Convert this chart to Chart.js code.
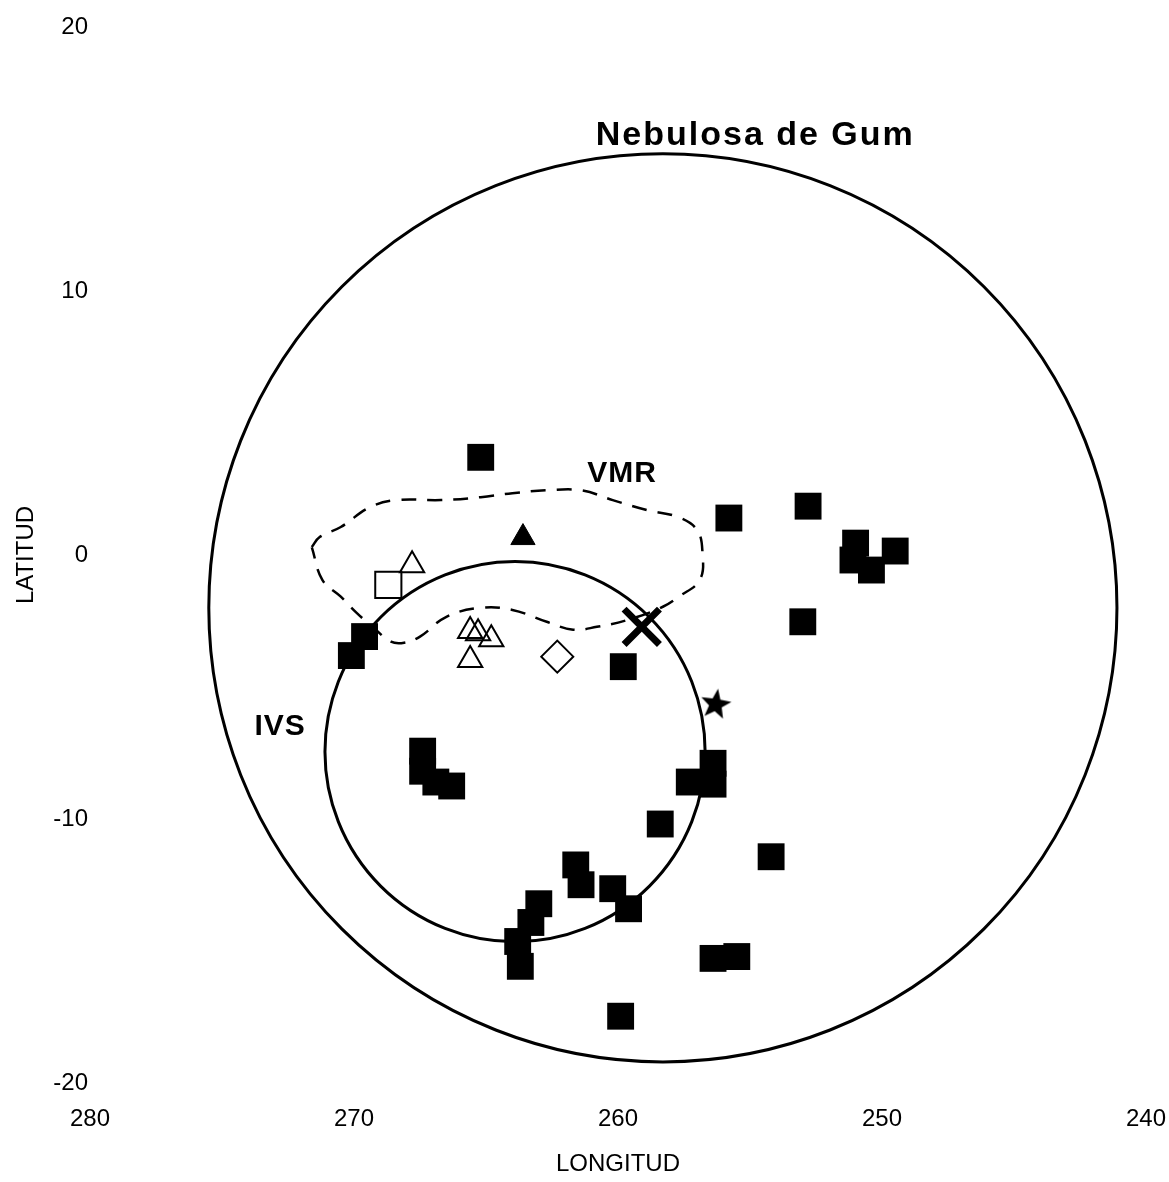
<!DOCTYPE html>
<html>
<head>
<meta charset="utf-8">
<script src="https://cdn.jsdelivr.net/npm/chart.js@4/dist/chart.umd.min.js"></script>
<style>
  html, body { margin: 0; padding: 0; background: #fff; }
  #wrap { width: 1169px; height: 1182px; }
</style>
</head>
<body>
<div id="wrap"><canvas id="chart" width="1169" height="1182"></canvas></div>
<script>
// ejes
const lonTicks = [280, 270, 260, 250, 240];
const latTicks = [20, 10, 0, -10, -20];

// puntos [longitud, latitud]
const filledSquares = [
  [265.2, 3.70], [255.8, 1.40], [252.8, 1.85], [251.0, 0.45], [251.1, -0.19],
  [250.4, -0.57], [249.5, 0.15], [253.0, -2.53], [269.6, -3.09], [270.1, -3.81],
  [259.8, -4.23], [256.4, -7.89], [257.3, -8.60], [256.4, -8.68], [258.4, -10.19],
  [267.4, -7.43], [267.4, -8.19], [266.9, -8.60], [266.3, -8.75], [261.6, -11.74],
  [261.4, -12.49], [260.2, -12.64], [259.6, -13.40], [263.0, -13.21], [263.3, -13.92],
  [263.8, -14.64], [263.7, -15.58], [256.4, -15.28], [255.5, -15.21], [254.2, -11.43],
  [259.9, -17.47]
];
const openTriangles = [
  [267.8, -0.39], [265.6, -2.88], [265.3, -2.96], [264.8, -3.19], [265.6, -3.98]
];
const openSquares = [[268.7, -1.13]];
const filledTriangles = [[263.6, 0.66]];
const openDiamonds = [[262.3, -3.85]];
const crosses = [[259.1, -2.72]];
const stars = [[256.3, -5.66]];

// contorno VMR (linea discontinua)
const vmrLon = [271.6, 271.3, 270.5, 269.4, 268.4, 266.7, 265.2, 264.0, 262.7, 261.4,
  260.2, 258.9, 257.7, 257.0, 256.8, 256.9, 257.7, 258.3, 259.6, 260.8, 261.7, 262.7,
  264.0, 265.2, 266.5, 267.5, 268.1, 268.6, 269.3, 269.9, 270.5, 271.2, 271.6];
const vmrLat = [0.30, 0.68, 1.06, 1.81, 2.08, 2.08, 2.19, 2.34, 2.45, 2.45,
  2.08, 1.70, 1.43, 0.94, 0.08, -0.94, -1.58, -1.96, -2.45, -2.72, -2.83, -2.53,
  -2.08, -2.00, -2.34, -3.09, -3.32, -3.28, -2.72, -2.19, -1.58, -0.94, 0.30];

// circulos [lon centro, lat centro, radio]
const gumCircle = [258.3, -2.0, 17.2];
const ivsCircle = [263.9, -7.45, 7.2];

// etiquetas
const labelText = ['Nebulosa de Gum', 'VMR', 'IVS'];
const labelLon = [254.8, 259.85, 272.8];
const labelLat = [15.9, 3.09, -6.49];
const labelSize = [34, 30, 30];

const toPts = arr => arr.map(([x, y]) => ({x, y}));

function makeStar(size) {
  const c = document.createElement('canvas');
  c.width = size; c.height = size;
  const g = c.getContext('2d');
  const cx = size / 2, cy = size / 2, ro = size / 2 - 1, ri = ro * 0.42;
  g.beginPath();
  for (let i = 0; i < 10; i++) {
    const r = i % 2 ? ri : ro;
    const a = -Math.PI / 2 + i * Math.PI / 5 + 0.15;
    g.lineTo(cx + r * Math.cos(a), cy + r * Math.sin(a));
  }
  g.closePath();
  g.fillStyle = '#000';
  g.fill();
  return c;
}

Chart.defaults.font.family = "'Liberation Sans', Arial, sans-serif";
Chart.defaults.color = '#000';

const overlay = {
  id: 'overlay',
  beforeDatasetsDraw(chart) {
    const {ctx, scales: {x, y}} = chart;
    ctx.save();
    ctx.strokeStyle = '#000';
    ctx.lineWidth = 3;
    [gumCircle, ivsCircle].forEach(([lon, lat, r]) => {
      const cx = x.getPixelForValue(lon), cy = y.getPixelForValue(lat);
      const rx = Math.abs(x.getPixelForValue(lon + r) - cx);
      const ry = Math.abs(y.getPixelForValue(lat + r) - cy);
      ctx.beginPath();
      ctx.ellipse(cx, cy, rx, ry, 0, 0, Math.PI * 2);
      ctx.stroke();
    });
    ctx.restore();
  },
  afterDatasetsDraw(chart) {
    const {ctx, scales: {x, y}} = chart;
    ctx.save();
    ctx.fillStyle = '#000';
    ctx.textAlign = 'center';
    ctx.textBaseline = 'middle';
    labelText.forEach((t, i) => {
      ctx.font = 'bold ' + labelSize[i] + "px 'Liberation Sans', Arial, sans-serif";
      ctx.letterSpacing = i === 0 ? '2px' : '1px';
      ctx.fillText(t, x.getPixelForValue(labelLon[i]), y.getPixelForValue(labelLat[i]));
    });
    ctx.restore();
  }
};

new Chart(document.getElementById('chart'), {
  type: 'scatter',
  data: {
    datasets: [
      {
        data: vmrLon.map((v, i) => ({x: v, y: vmrLat[i]})),
        showLine: true, tension: 0.4, borderColor: '#000', borderWidth: 2.5,
        borderDash: [15, 11], pointRadius: 0, fill: false
      },
      {
        data: toPts(filledSquares), pointStyle: 'rect', pointRadius: 19,
        backgroundColor: '#000', borderColor: '#000', borderWidth: 0
      },
      {
        data: toPts(openTriangles), pointStyle: 'triangle', pointRadius: 14,
        backgroundColor: 'rgba(0,0,0,0)', borderColor: '#000', borderWidth: 2
      },
      {
        data: toPts(openSquares), pointStyle: 'rect', pointRadius: 18.5,
        backgroundColor: 'rgba(0,0,0,0)', borderColor: '#000', borderWidth: 2
      },
      {
        data: toPts(filledTriangles), pointStyle: 'triangle', pointRadius: 14,
        backgroundColor: '#000', borderColor: '#000', borderWidth: 1
      },
      {
        data: toPts(openDiamonds), pointStyle: 'rectRot', pointRadius: 16,
        backgroundColor: 'rgba(0,0,0,0)', borderColor: '#000', borderWidth: 2
      },
      {
        data: toPts(crosses), pointStyle: 'crossRot', pointRadius: 25,
        borderColor: '#000', borderWidth: 7
      },
      {
        data: toPts(stars), pointStyle: makeStar(34), pointRadius: 17
      }
    ]
  },
  options: {
    responsive: false,
    animation: false,
    events: [],
    layout: { autoPadding: false, padding: { top: 27, right: 23, left: 0, bottom: 0 } },
    plugins: { legend: { display: false }, tooltip: { enabled: false } },
    scales: {
      x: {
        type: 'linear', min: 240, max: 280, reverse: true,
        grid: { display: false, drawTicks: false }, border: { display: false },
        afterBuildTicks: s => { s.ticks = lonTicks.map(v => ({value: v})); },
        afterFit: s => { s.height = 99; s.paddingLeft = 0; s.paddingRight = 0; },
        ticks: { font: { size: 24 }, padding: 22, maxRotation: 0 },
        title: { display: true, text: 'LONGITUD', font: { size: 24 }, padding: { top: 0, bottom: 3 } }
      },
      y: {
        type: 'linear', min: -20, max: 20,
        grid: { display: false, drawTicks: false }, border: { display: false },
        afterBuildTicks: s => { s.ticks = latTicks.map(v => ({value: v})); },
        afterFit: s => { s.width = 90; s.paddingTop = 0; s.paddingBottom = 0; },
        ticks: { font: { size: 24 }, padding: 2 },
        title: { display: true, text: 'LATITUD', font: { size: 24 }, padding: { top: 12, bottom: 0 } }
      }
    }
  },
  plugins: [overlay]
});
</script>
</body>
</html>
